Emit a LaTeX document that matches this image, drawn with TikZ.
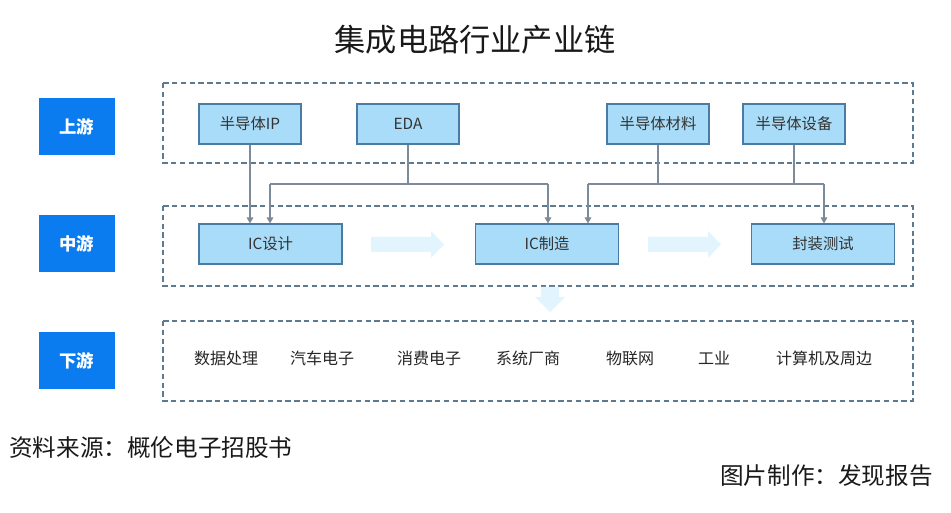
\documentclass[tikz,border=0pt]{standalone}
\usepackage{fontspec}
\setmainfont{Noto Sans CJK SC}
\usetikzlibrary{arrows.meta}
\definecolor{lblue}{HTML}{0A7CEF}
\definecolor{nfill}{HTML}{A9DCF8}
\definecolor{nborder}{HTML}{4A7BA3}
\definecolor{dashc}{HTML}{5E7A90}
\definecolor{connc}{HTML}{7D8A99}
\definecolor{bigarr}{HTML}{E2F4FD}
\tikzset{
  stagelbl/.style={fill=lblue, text=white, minimum width=57pt, minimum height=42.75pt, inner sep=0pt, font=\fontsize{13pt}{15pt}\selectfont\bfseries},
  upbox/.style={fill=nfill, draw=nborder, line width=0.9pt, minimum width=76.5pt, minimum height=30pt, inner sep=0pt, text=black!80, font=\fontsize{11.5pt}{13pt}\selectfont},
  midbox/.style={upbox, minimum width=107.25pt},
  zone/.style={draw=dashc, line width=0.8pt, dash pattern=on 4pt off 2.6pt},
  conn/.style={draw=connc, line width=0.8pt},
  connarr/.style={conn, -{Triangle[length=4.5pt,width=5pt]}},
  downtxt/.style={text=black!85, font=\fontsize{12pt}{14pt}\selectfont, inner sep=0pt},
  foot/.style={inner sep=0pt, font=\fontsize{17.7pt}{20pt}\selectfont, text=black!90},
}
\begin{document}
\begin{tikzpicture}[x=0.75pt,y=-0.75pt]
\useasboundingbox (0,0) rectangle (951,513);
\fill[white] (0,0) rectangle (951,513);

% title
\node[font=\fontsize{23.4pt}{26pt}\selectfont, text=black!90] (title) at (475,40) {集成电路行业产业链};

% zones
\draw[zone] (163,83) rectangle (913,163);
\draw[zone] (163,206) rectangle (913,286);
\draw[zone] (163,321) rectangle (913,401);

% stage labels
\node[stagelbl] (up) at (77,126.5) {上游};
\node[stagelbl] (mid) at (77,244) {中游};
\node[stagelbl] (down) at (77,361) {下游};

% big light arrows
\fill[bigarr] (371,237) -- (431,237) -- (431,231) -- (444,244.5) -- (431,258) -- (431,252) -- (371,252) -- cycle;
\fill[bigarr] (648,237) -- (708,237) -- (708,231) -- (721,244.5) -- (708,258) -- (708,252) -- (648,252) -- cycle;
\fill[bigarr] (541,287) -- (559,287) -- (559,297) -- (565,297) -- (550,312) -- (535,297) -- (541,297) -- cycle;

% upstream nodes
\node[upbox] (ip) at (250,124) {半导体IP};
\node[upbox] (eda) at (408,124) {EDA};
\node[upbox] (mat) at (658,124) {半导体材料};
\node[upbox] (equ) at (794,124) {半导体设备};

% midstream nodes
\node[midbox] (icd) at (270.5,244) {IC设计};
\node[midbox] (icm) at (547,244) {IC制造};
\node[midbox] (pkg) at (823,244) {封装测试};

% connectors
\coordinate (h1l) at (270,184);
\coordinate (h1r) at (548,184);
\coordinate (h2l) at (588,184);
\coordinate (h2r) at (824,184);
\draw[connarr] (ip.south) -- (ip.south |- icd.north);
\draw[conn] (eda.south) -- (eda.south |- h1l);
\draw[conn] (h1l) -- (h1r);
\draw[connarr] (h1l) -- (h1l |- icd.north);
\draw[connarr] (h1r) -- (h1r |- icm.north);
\draw[conn] (mat.south) -- (mat.south |- h2l);
\draw[conn] (equ.south) -- (equ.south |- h2r);
\draw[conn] (h2l) -- (h2r);
\draw[connarr] (h2l) -- (h2l |- icm.north);
\draw[connarr] (h2r) -- (h2r |- pkg.north);

% downstream
\node[downtxt] (d1) at (226,358) {数据处理};
\node[downtxt] (d2) at (322,358) {汽车电子};
\node[downtxt] (d3) at (429,358) {消费电子};
\node[downtxt] (d4) at (528,358) {系统厂商};
\node[downtxt] (d5) at (630,358) {物联网};
\node[downtxt] (d6) at (714,358) {工业};
\node[downtxt] (d7) at (824,358) {计算机及周边};

% footer
\node[foot, anchor=west] (src) at (9,447) {资料来源：概伦电子招股书};
\node[foot, anchor=east] (made) at (933,476) {图片制作：发现报告};
\end{tikzpicture}
\end{document}
